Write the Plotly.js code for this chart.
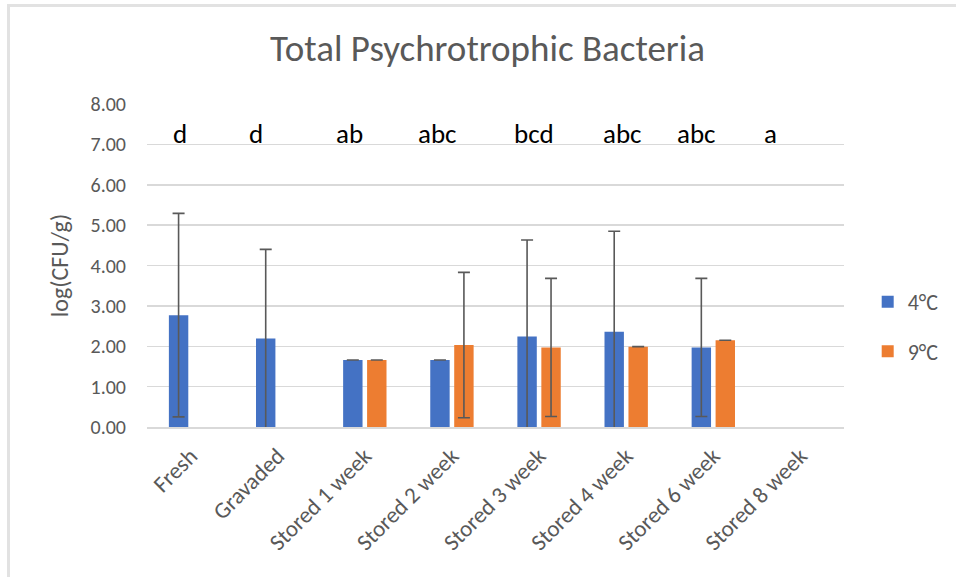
<!DOCTYPE html>
<html>
<head>
<meta charset="utf-8">
<script src="https://cdn.plot.ly/plotly-3.0.1.min.js"></script>
<style>
  html, body { margin: 0; padding: 0; background: #ffffff; }
  #chart { position: absolute; left: 0; top: 0; width: 956px; height: 577px; }
  #frame { position: absolute; left: 7px; top: 4px; width: 949px; height: 573px;
           border-top: 3px solid #e2e2e2; border-left: 3px solid #e2e2e2;
           box-sizing: border-box; pointer-events: none; }
</style>
</head>
<body>
<div id="chart"></div>
<div id="frame"></div>
<script>
// ---- data ----
var categories = ['Fresh', 'Gravaded', 'Stored 1 week', 'Stored 2 week',
                  'Stored 3 week', 'Stored 4 week', 'Stored 6 week', 'Stored 8 week'];
var values4C = [2.77, 2.19, 1.66, 1.66, 2.24, 2.36, 1.97, null];
var errors4C = [2.52, 2.21, 0, 0, 2.39, 2.49, 1.71, null];
var values9C = [null, null, 1.66, 2.03, 1.97, 1.99, 2.15, null];
var errors9C = [null, null, 0, 1.80, 1.71, 0, 0, null];
var sigLetters = ['d', 'd', 'ab', 'abc', 'bcd', 'abc', 'abc', 'a'];
var yTickVals = [0, 1, 2, 3, 4, 5, 6, 7, 8];
var yTickText = ['0.00', '1.00', '2.00', '3.00', '4.00', '5.00', '6.00', '7.00', '8.00'];

// ---- layout / style constants ----
var FONT = 'Carlito, Lato, "Open Sans", sans-serif';
var GREY = '#595959';
var letterShift = [-11, -22, -15, -14, -5, -4, -17, -30];
var letterY = 7.28;

var errStyle = { type: 'data', symmetric: true, color: '#595959', thickness: 1.6, width: 6 };

var traces = [
  {
    type: 'bar', name: '4°C', x: categories, y: values4C,
    marker: { color: '#4472C4' },
    error_y: Object.assign({ array: errors4C }, errStyle),
    legendgroup: 'a'
  },
  {
    type: 'bar', name: '9°C', x: categories, y: values9C,
    marker: { color: '#ED7D31' },
    error_y: Object.assign({ array: errors9C }, errStyle),
    legendgroup: 'b'
  }
];

var annotations = sigLetters.map(function (t, i) {
  return {
    text: t, x: categories[i], y: letterY, xref: 'x', yref: 'y',
    xshift: letterShift[i], showarrow: false,
    font: { family: FONT, size: 27, color: '#000000' },
    xanchor: 'center', yanchor: 'middle'
  };
});

var layout = {
  width: 956, height: 577,
  margin: { l: 147, r: 108, t: 104, b: 150 },
  paper_bgcolor: 'rgba(0,0,0,0)',
  plot_bgcolor: 'rgba(0,0,0,0)',
  barmode: 'group',
  bargap: 0.45,
  bargroupgap: 0.19,
  font: { family: FONT, color: GREY },
  title: {
    text: 'Total Psychrotrophic Bacteria',
    font: { family: FONT, size: 37, color: GREY },
    xref: 'container', yref: 'container', x: 0.51, y: 0.917,
    xanchor: 'center', yanchor: 'middle'
  },
  xaxis: {
    type: 'category',
    tickangle: -45,
    tickfont: { family: FONT, size: 23, color: GREY },
    ticklabelstandoff: 5,
    ticklabelshift: 0,
    showgrid: false,
    showline: true, linecolor: '#d9d9d9', linewidth: 1.5,
    ticks: '', fixedrange: true
  },
  yaxis: {
    range: [0, 8],
    tickvals: yTickVals, ticktext: yTickText,
    tickfont: { family: FONT, size: 20, color: GREY },
    ticklabelstandoff: 20,
    showgrid: true, gridcolor: '#d9d9d9', gridwidth: 1.5,
    zeroline: false, showline: false, ticks: '',
    title: { text: 'log(CFU/g)', font: { family: FONT, size: 24, color: GREY }, standoff: 15 }
  },
  showlegend: true,
  legend: {
    x: 1.034, xanchor: 'left', y: 0.31, yanchor: 'middle',
    traceorder: 'grouped', tracegroupgap: 18,
    font: { family: FONT, size: 22, color: GREY },
    bgcolor: 'rgba(0,0,0,0)'
  },
  annotations: annotations
};

Plotly.newPlot('chart', traces, layout, { displayModeBar: false, staticPlot: true });
</script>
</body>
</html>
